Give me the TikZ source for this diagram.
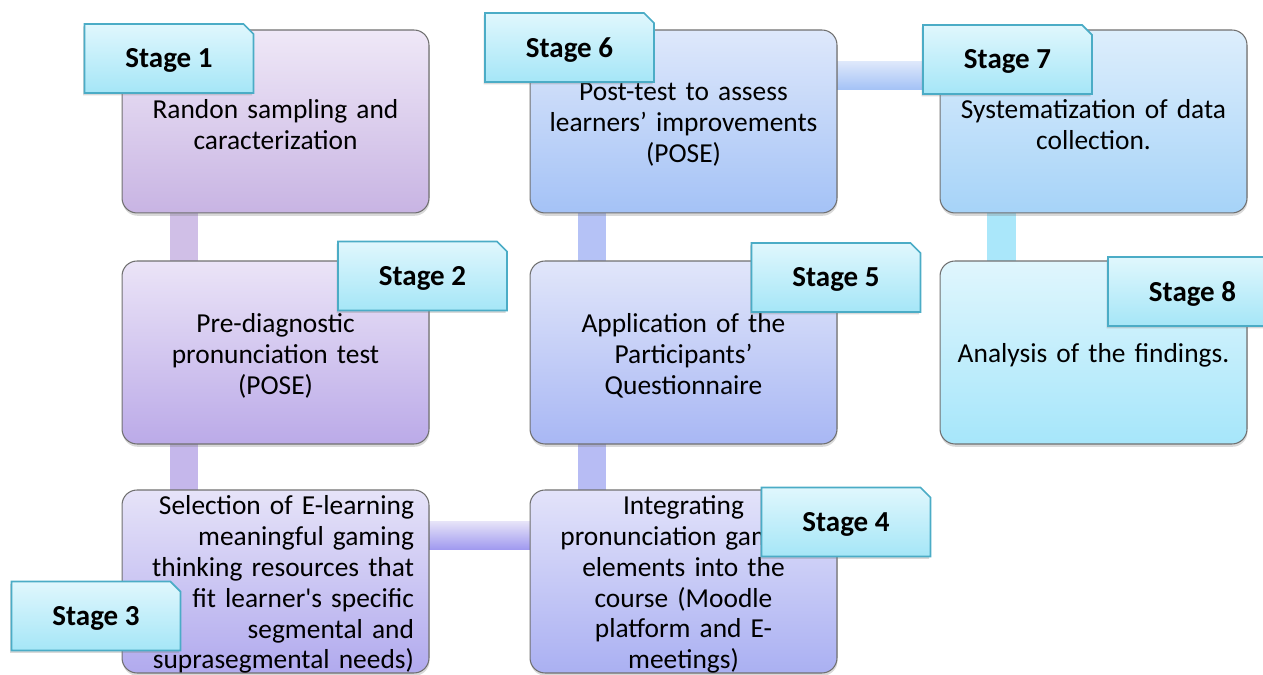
\documentclass[tikz,border=0pt]{standalone}
\usepackage{fontspec}
\setmainfont{Carlito}
\usetikzlibrary{shapes.misc,shadows,calc,backgrounds}

% box shades, from stage 1 to stage 8
\definecolor{boxline}{HTML}{707070}
\definecolor{tabline}{HTML}{4BACC6}
\definecolor{tabtop}{HTML}{E0F7FD}
\definecolor{tabbot}{HTML}{A5E6F7}
\definecolor{topA}{HTML}{EFE8F7}\definecolor{botA}{HTML}{C8B4E3}
\definecolor{topB}{HTML}{EBE4F7}\definecolor{botB}{HTML}{BBAAE8}
\definecolor{topC}{HTML}{E6E3F8}\definecolor{botC}{HTML}{B1AAEE}
\definecolor{topD}{HTML}{E3E3FA}\definecolor{botD}{HTML}{AAB0F2}
\definecolor{topE}{HTML}{E1E6FA}\definecolor{botE}{HTML}{A8B7F4}
\definecolor{topF}{HTML}{DEE8FB}\definecolor{botF}{HTML}{A4C2F6}
\definecolor{topG}{HTML}{DDEEFC}\definecolor{botG}{HTML}{A6D3F8}
\definecolor{topH}{HTML}{E0F6FD}\definecolor{botH}{HTML}{A6E6FA}

\begin{document}
\begin{tikzpicture}[x=0.02cm,y=0.02cm,
	box/.style={rounded corners=0.3cm, draw=boxline, line width=0.6pt,
		minimum width=6.14cm, minimum height=3.66cm,
		drop shadow={opacity=0.3, shadow xshift=0.3pt, shadow yshift=-1.6pt}},
	boxtext/.style={text width=5.54cm, align=center, inner sep=0pt,
		font=\fontsize{15.6}{17.6}\selectfont},
	stagetab/.style={chamfered rectangle, chamfered rectangle corners=north east,
		chamfered rectangle xsep=0.1cm, chamfered rectangle ysep=0.1cm,
		draw=tabline, line width=1pt, top color=tabtop, bottom color=tabbot,
		minimum width=3.38cm, minimum height=1.38cm, inner sep=0pt,
		text depth=-3pt, font=\fontsize{16.5}{20}\selectfont\bfseries,
		drop shadow={opacity=0.3, shadow xshift=-0.8pt, shadow yshift=-1.4pt}}]
	\useasboundingbox (0,0) rectangle (1263,675);

	% stage boxes
	\node[box, top color=topA, bottom color=botA] (b1) at (275.5,553.5) {};
	\node[box, top color=topB, bottom color=botB] (b2) at (275.5,322.5) {};
	\node[box, top color=topC, bottom color=botC] (b3) at (275.5,93.5) {};
	\node[box, top color=topD, bottom color=botD] (b4) at (683.5,93.5) {};
	\node[box, top color=topE, bottom color=botE] (b5) at (683.5,322.5) {};
	\node[box, top color=topF, bottom color=botF] (b6) at (683.5,553.5) {};
	\node[box, top color=topG, bottom color=botG] (b7) at (1093.5,553.5) {};
	\node[box, top color=topH, bottom color=botH] (b8) at (1093.5,322.5) {};

	% links, kept behind the boxes
	\begin{pgfonlayer}{background}
	\fill[fill=botA!85!white] ($(b1.south west)+(48,10)$) rectangle ($(b2.north west)+(76,-10)$);
	\fill[fill=botB!85!white] ($(b2.south west)+(48,10)$) rectangle ($(b3.north west)+(76,-10)$);
	\shade[top color=topC, bottom color=botC!90!blue] ($(b3.north east)+(-10,-32)$) rectangle ($(b4.north west)+(10,-60)$);
	\fill[fill=botD!85!white] ($(b4.north west)+(48,-10)$) rectangle ($(b5.south west)+(76,10)$);
	\fill[fill=botE!85!white] ($(b5.north west)+(48,-10)$) rectangle ($(b6.south west)+(76,10)$);
	\shade[top color=topF, bottom color=botF] ($(b6.north east)+(-10,-32)$) rectangle ($(b7.north west)+(10,-60)$);
	\fill[fill=botH!95!white] ($(b7.south west)+(47,10)$) rectangle ($(b8.north west)+(76,-10)$);
	\end{pgfonlayer}

	% texts
	\node[boxtext] (t1) at ($(b1)+(0,-3)$) {Randon sampling and\\caracterization};
	\node[boxtext] (t2) at ($(b2)+(0,-3)$) {Pre-diagnostic\\pronunciation test\\(POSE)};
	\node[boxtext, align=right] (t3) at ($(b3)+(0,-3)$) {Selection of E-learning\\meaningful gaming\\thinking resources that\\fit learner\textquotesingle s specific\\segmental and\\suprasegmental needs)};
	\node[boxtext] (t4) at ($(b4)+(0,-3)$) {Integrating\\pronunciation gaming\\elements into the\\course (Moodle\\platform and E-\\meetings)};
	\node[boxtext] (t5) at ($(b5)+(0,-3)$) {Application of the\\Participants’\\Questionnaire};
	\node[boxtext] (t6) at ($(b6)+(0,-3)$) {Post-test to assess\\learners’ improvements\\(POSE)};
	\node[boxtext] (t7) at ($(b7)+(0,-3)$) {Systematization of data\\collection.};
	\node[boxtext] (t8) at ($(b8)+(0,-3)$) {Analysis of the findings.};

	% stage tabs
	\node[stagetab] (s1) at (169,616.5) {Stage 1};
	\node[stagetab] (s2) at (422.5,399) {Stage 2};
	\node[stagetab] (s3) at (96,59) {Stage 3};
	\node[stagetab] (s4) at (846,153) {Stage 4};
	\node[stagetab] (s5) at (836,397.5) {Stage 5};
	\node[stagetab] (s6) at (569.5,627.5) {Stage 6};
	\node[stagetab] (s7) at (1007.5,615.5) {Stage 7};
	\node[stagetab] (s8) at (1192.5,383.5) {Stage 8};
\end{tikzpicture}
\end{document}
